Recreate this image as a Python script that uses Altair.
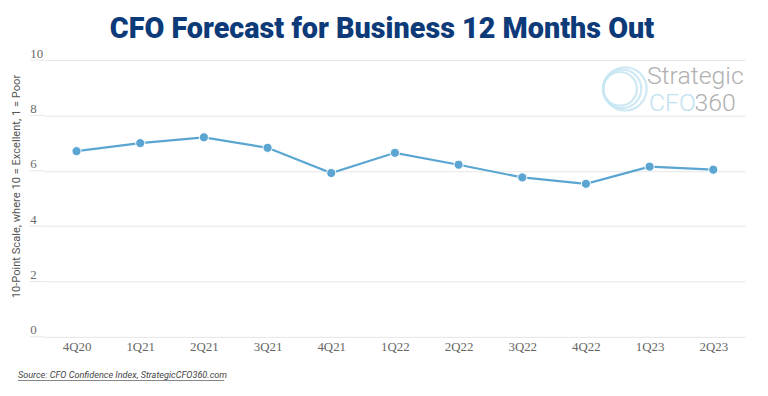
import altair as alt
import pandas as pd

quarters = ["4Q20", "1Q21", "2Q21", "3Q21", "4Q21", "1Q22", "2Q22", "3Q22", "4Q22", "1Q23", "2Q23"]
values = [6.71, 7.00, 7.21, 6.83, 5.92, 6.65, 6.22, 5.76, 5.53, 6.15, 6.04]
y_ticks = [0, 2, 4, 6, 8, 10]

title_text = "CFO Forecast for Business 12 Months Out"
y_title = "10-Point Scale, where 10 = Excellent, 1 = Poor"
source_text = "Source: CFO Confidence Index, StrategicCFO360.com"

W, H = 706, 279
LINE = "#5aa5d2"

df = pd.DataFrame({"quarter": quarters, "value": values})
ticks_df = pd.DataFrame({"value": y_ticks})

xenc = alt.X("quarter:N", sort=quarters, title=None,
             scale=alt.Scale(type="point", padding=0.5),
             axis=alt.Axis(labelAngle=0, labelFont="Liberation Serif", labelFontSize=13,
                           labelColor="#666666", ticks=False, domain=False, grid=False, labelPadding=4))
yscale = alt.Scale(domain=[0, 10], nice=False)
yaxis = alt.Axis(values=y_ticks, grid=True, gridColor="#e6e6e6", ticks=False, domain=False,
                 labelAlign="left", labelPadding=15, labelBaseline="alphabetic", labelOffset=-3,
                 labelFont="Liberation Serif", labelFontSize=13, labelColor="#6a6a6a",
                 titleFont="Roboto", titleFontSize=11.2, titleFontWeight="normal", titleColor="#555555",
                 titleX=-28, titleY=127, titleAngle=-90, titleAlign="center", titleBaseline="middle")
yenc = alt.Y("value:Q", scale=yscale, title=y_title, axis=yaxis)

line = alt.Chart(df).mark_line(color=LINE, strokeWidth=2.2).encode(x=xenc, y=yenc)
pts = alt.Chart(df).mark_point(filled=True, color=LINE, size=85, opacity=1,
                               stroke="white", strokeWidth=1).encode(x=xenc, y=yenc)

grid_ext = alt.Chart(ticks_df).mark_rule(color="#e6e6e6", strokeWidth=1).encode(
    x=alt.value(-15), x2=alt.value(0), y=yenc)

title = alt.Chart(pd.DataFrame({"t": [title_text]})).mark_text(
    font="Roboto", fontSize=29, fontWeight=900, color="#0d3a78", align="center", baseline="middle"
).encode(text="t:N", x=alt.value(340), y=alt.value(-31))

source = alt.Chart(pd.DataFrame({"t": [source_text]})).mark_text(
    font="Roboto", fontSize=9.2, fontStyle="italic", color="#444444", align="left", baseline="middle"
).encode(text="t:N", x=alt.value(-27), y=alt.value(317))
underline = alt.Chart(pd.DataFrame({"t": [source_text]})).mark_rule(color="#666666", strokeWidth=0.8).encode(
    x=alt.value(-27), x2=alt.value(181), y=alt.value(323))

ring_sizes = [1900, 1500, 1150]
ring_dx = [585, 582, 580]
rings = alt.Chart(pd.DataFrame({"s": ring_sizes, "dx": ring_dx})).mark_point(
    shape="circle", filled=False, color="#c6e6f3", strokeWidth=2.2, opacity=0.85
).encode(x=alt.X("dx:Q", scale=None), y=alt.value(29), size=alt.Size("s:Q", scale=None, legend=None))

logo_s = alt.Chart(pd.DataFrame({"t": ["Strategic"]})).mark_text(
    font="Roboto", fontSize=25, fontWeight=300, color="#b0b0b0", align="left", baseline="alphabetic"
).encode(text="t:N", x=alt.value(607), y=alt.value(24))
logo_cfo = alt.Chart(pd.DataFrame({"t": ["CFO"]})).mark_text(
    font="Roboto", fontSize=25, fontWeight=300, color="#bfe2f0", align="left", baseline="alphabetic"
).encode(text="t:N", x=alt.value(609), y=alt.value(51))
logo_360 = alt.Chart(pd.DataFrame({"t": ["360"]})).mark_text(
    font="Roboto", fontSize=25, fontWeight=300, color="#b0b0b0", align="left", baseline="alphabetic"
).encode(text="t:N", x=alt.value(655), y=alt.value(51))

chart = alt.layer(grid_ext, line, pts, title, source, underline, rings, logo_s, logo_cfo, logo_360).properties(
    width=W, height=H,
    background="white",
    autosize=alt.AutoSizeParams(type="none"),
    padding={"left": 37, "top": 51, "right": 15, "bottom": 45},
).configure_view(strokeWidth=0, stroke="transparent")

chart.save("out.html", embed_options={"renderer": "svg", "actions": False})
